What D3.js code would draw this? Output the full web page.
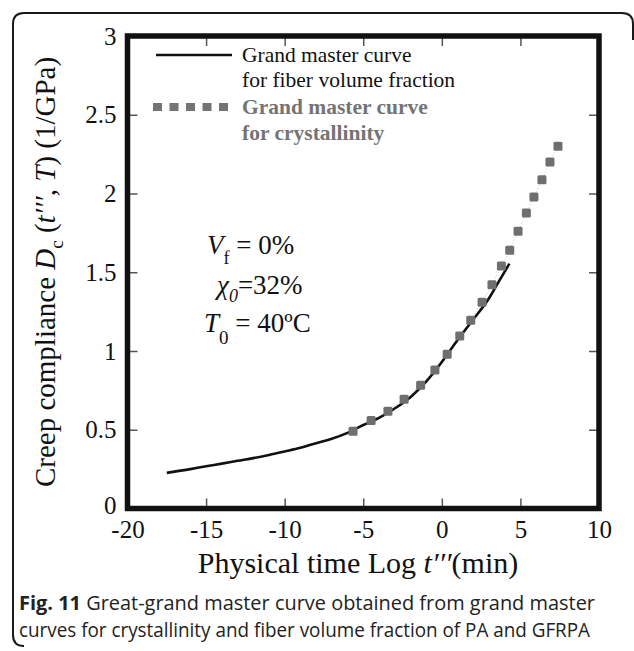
<!DOCTYPE html>
<html>
<head>
<meta charset="utf-8">
<script src="https://cdn.jsdelivr.net/npm/d3@7"></script>
<style>
  html, body { margin: 0; padding: 0; background: #fff; }
  svg { display: block; }
  .serif { font-family: "Liberation Serif", "Times New Roman", serif; }
  .sans { font-family: "Open Sans", "Noto Sans", sans-serif; }
</style>
</head>
<body>
<svg id="chart" width="634" height="651"></svg>
<script>
// ---- data ----
const xTicks = [-20, -15, -10, -5, 0, 5, 10];
const yTicks = [0, 0.5, 1, 1.5, 2, 2.5, 3];

// Grand master curve for fiber volume fraction (solid black line)
const fiberX = [-17.5, -16, -15, -14, -13, -12, -11, -10, -9, -8, -7, -6, -5, -4, -3, -2, -1, 0, 1, 2, 3, 3.5, 4.3];
const fiberY = [0.226, 0.25, 0.268, 0.285, 0.303, 0.32, 0.34, 0.362, 0.385, 0.415, 0.443, 0.48, 0.53, 0.575, 0.635, 0.707, 0.805, 0.93, 1.07, 1.2, 1.335, 1.42, 1.555];

// Grand master curve for crystallinity (gray squares)
const crystX = [-5.65, -4.5, -3.43, -2.4, -1.35, -0.44, 0.34, 1.14, 1.84, 2.56, 3.19, 3.79, 4.32, 4.85, 5.38, 5.86, 6.37, 6.88, 7.39];
const crystY = [0.49, 0.558, 0.618, 0.694, 0.783, 0.88, 0.98, 1.095, 1.196, 1.31, 1.42, 1.54, 1.64, 1.76, 1.876, 1.977, 2.087, 2.2, 2.3];

const legendLabels = [["Grand master curve", "for fiber volume fraction"], ["Grand master curve", "for crystallinity"]];
const captionBold = "Fig. 11";
const captionLine1 = " Great-grand master curve obtained from grand master";
const captionLine2 = "curves for crystallinity and fiber volume fraction of PA and GFRPA";

// ---- layout ----
const svg = d3.select("#chart");
const L = 127.5, R = 599, T = 36, B = 508.5;
const x = d3.scaleLinear().domain([-20, 10]).range([L, R]);
const y = d3.scaleLinear().domain([0, 3]).range([B, T]);
const gray = "#747474";

// outer rounded border
svg.append("path")
  .attr("d", "M 24,646 Q 13,646 13,635 L 13,24 Q 13,13 24,13 L 622,13 Q 633,13 633,24 L 633,40")
  .attr("fill", "none").attr("stroke", "#1a1a1a").attr("stroke-width", 2);

// axes (inward ticks)
const tickColor = "#555";
const gx = svg.append("g").attr("class", "serif").attr("transform", `translate(0,${B})`)
  .call(d3.axisBottom(x).tickValues(xTicks).tickSizeInner(-10).tickSizeOuter(0).tickPadding(12)
        .tickFormat(d => String(d).replace("\u2212", "-")));
const gy = svg.append("g").attr("class", "serif").attr("transform", `translate(${L},0)`)
  .call(d3.axisLeft(y).tickValues(yTicks).tickSizeInner(-10).tickSizeOuter(0).tickPadding(11)
        .tickFormat(d => String(d)));
const gt = svg.append("g").attr("transform", `translate(0,${T})`)
  .call(d3.axisTop(x).tickValues(xTicks.slice(1, -1)).tickSizeInner(-10).tickSizeOuter(0).tickFormat(""));
const gr = svg.append("g").attr("transform", `translate(${R},0)`)
  .call(d3.axisRight(y).tickValues(yTicks.slice(1, -1)).tickSizeInner(-10).tickSizeOuter(0).tickFormat(""));
[gx, gy, gt, gr].forEach(g => {
  g.select(".domain").remove();
  g.selectAll(".tick line").attr("stroke", tickColor).attr("stroke-width", 1.5);
  g.selectAll(".tick text").attr("fill", "#111").style("font-size", "25px")
    .style("font-family", "'Liberation Serif', serif");
});
// nudge the origin "0" label up slightly so it clears "-20"
gy.selectAll(".tick").filter(d => d === 0).select("text").attr("dy", "0.2em");

// frame
svg.append("rect").attr("x", L).attr("y", T).attr("width", R - L).attr("height", B - T)
  .attr("fill", "none").attr("stroke", "#111").attr("stroke-width", 5.5);

// faint connector between crystallinity squares
const crystPts = crystX.map((v, i) => [v, crystY[i]]);
svg.append("path").datum(crystPts)
  .attr("d", d3.line().x(d => x(d[0])).y(d => y(d[1])))
  .attr("fill", "none").attr("stroke", "#bbb").attr("stroke-width", 0.8).attr("stroke-dasharray", "1,2");

// fiber line
const fiberPts = fiberX.map((v, i) => [v, fiberY[i]]);
svg.append("path").datum(fiberPts)
  .attr("d", d3.line().x(d => x(d[0])).y(d => y(d[1])).curve(d3.curveMonotoneX))
  .attr("fill", "none").attr("stroke", "#111").attr("stroke-width", 2.6).attr("stroke-linejoin", "round");

// crystallinity squares
const sq = 9;
svg.append("g").selectAll("rect").data(crystPts).join("rect")
  .attr("x", d => x(d[0]) - sq / 2).attr("y", d => y(d[1]) - sq / 2)
  .attr("width", sq).attr("height", sq).attr("rx", 1.5)
  .attr("fill", "#6f6f6f");

// legend
const lg = svg.append("g").attr("class", "serif");
lg.append("line").attr("x1", 156).attr("x2", 232).attr("y1", 55).attr("y2", 55)
  .attr("stroke", "#111").attr("stroke-width", 2.6);
d3.range(5).forEach(i => {
  lg.append("rect").attr("x", 153 + i * 16.5).attr("y", 103).attr("width", 9).attr("height", 8).attr("fill", gray);
});
lg.append("text").attr("x", 242).attr("y", 62).style("font-size", "21.5px").attr("fill", "#111").text(legendLabels[0][0]);
lg.append("text").attr("x", 242).attr("y", 87).style("font-size", "21.5px").attr("fill", "#111").text(legendLabels[0][1]);
lg.append("text").attr("x", 242).attr("y", 114).style("font-size", "21.5px").style("font-weight", "bold").attr("fill", gray).text(legendLabels[1][0]);
lg.append("text").attr("x", 242).attr("y", 140).style("font-size", "21.5px").style("font-weight", "bold").attr("fill", gray).text(legendLabels[1][1]);

// annotation
const an = svg.append("g").attr("class", "serif").attr("fill", "#111").style("font-size", "27px");
const t1 = an.append("text").attr("x", 207).attr("y", 254);
t1.append("tspan").style("font-style", "italic").text("V");
t1.append("tspan").attr("dy", 10).style("font-size", "18px").text("f");
t1.append("tspan").attr("dy", -10).text(" = 0%");
const t2 = an.append("text").attr("x", 217).attr("y", 294);
t2.append("tspan").style("font-style", "italic").text("\u03C7");
t2.append("tspan").attr("dy", 8).style("font-size", "18px").style("font-style", "italic").text("0");
t2.append("tspan").attr("dy", -8).text("=32%");
const t3 = an.append("text").attr("x", 204).attr("y", 332);
t3.append("tspan").style("font-style", "italic").text("T");
t3.append("tspan").attr("dy", 12).style("font-size", "19px").text("0");
t3.append("tspan").attr("dy", -12).text(" = 40\u00BAC");

// x axis title
const xt = svg.append("text").attr("class", "serif").attr("x", 358).attr("y", 573)
  .attr("text-anchor", "middle").style("font-size", "30px").attr("fill", "#111");
xt.append("tspan").text("Physical time Log ");
xt.append("tspan").style("font-style", "italic").text("t\u2032\u2032\u2032");
xt.append("tspan").text("(min)");

// y axis title
const yt = svg.append("text").attr("class", "serif")
  .attr("transform", "translate(55,272) rotate(-90)")
  .attr("text-anchor", "middle").style("font-size", "29px").attr("fill", "#111");
yt.append("tspan").text("Creep compliance ");
yt.append("tspan").style("font-style", "italic").text("D");
yt.append("tspan").attr("dy", 8).style("font-size", "19px").text("c");
yt.append("tspan").attr("dy", -8).text(" (");
yt.append("tspan").style("font-style", "italic").text("t\u2032\u2032\u2032");
yt.append("tspan").text(", ");
yt.append("tspan").style("font-style", "italic").text("T");
yt.append("tspan").text(") (1/GPa)");

// caption
const c1 = svg.append("text").attr("class", "sans").attr("x", 19).attr("y", 610)
  .style("font-size", "19.5px").attr("fill", "#222")
  .attr("textLength", 576).attr("lengthAdjust", "spacingAndGlyphs");
c1.append("tspan").style("font-weight", "bold").text(captionBold);
c1.append("tspan").text(captionLine1);
svg.append("text").attr("class", "sans").attr("x", 19).attr("y", 637)
  .style("font-size", "19.5px").attr("fill", "#222")
  .attr("textLength", 571).attr("lengthAdjust", "spacingAndGlyphs").text(captionLine2);
</script>
</body>
</html>
